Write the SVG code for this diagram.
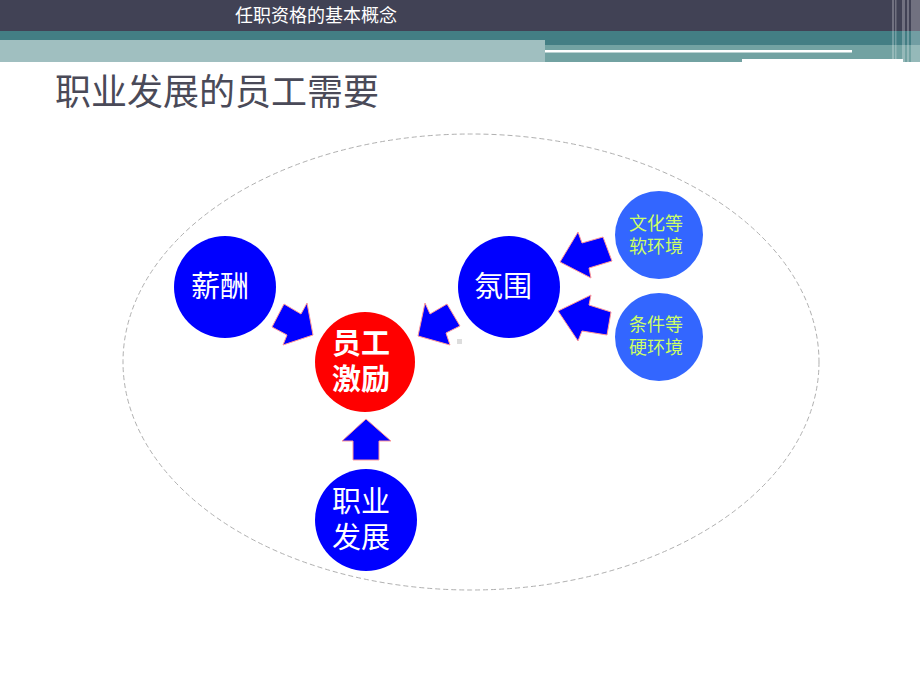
<svg xmlns="http://www.w3.org/2000/svg" width="920" height="690" viewBox="0 0 920 690">
<defs>
<style>
.cn{font-family:"Noto Sans CJK SC","Noto Sans",sans-serif}
.big{fill:#0000ff}
.red{fill:#ff0000}
.small{fill:#3366ff}
.wt{fill:#ffffff;font-size:29px;text-anchor:middle}
.yt{fill:#ccff66;font-size:18px;text-anchor:middle}
.arr{fill:#0000ff;stroke:#ff9999;stroke-width:1}
</style>
</defs>
<rect width="920" height="690" fill="#ffffff"/>
<g id="header">
<rect x="0" y="0" width="920" height="31" fill="#414255"/>
<rect x="0" y="31" width="920" height="14" fill="#437e84"/>
<rect x="0" y="40" width="545" height="22" fill="#a0bfc0"/>
<rect x="545" y="45" width="375" height="17" fill="#72a2a2"/>
<rect x="545" y="50" width="307" height="2.5" fill="#ffffff"/>
<rect x="742" y="59" width="161" height="3" fill="#ffffff"/>
<g fill="#ffffff" opacity="0.25">
<rect x="892" y="0" width="2" height="62"/>
<rect x="895" y="0" width="1.5" height="62"/>
<rect x="902" y="0" width="3" height="62"/>
<rect x="907" y="0" width="2" height="62"/>
<rect x="911" y="0" width="9" height="62"/>
</g>
<text class="cn" x="316" y="22" font-size="18" fill="#ffffff" text-anchor="middle">任职资格的基本概念</text>
</g>
<text class="cn" x="55" y="105" font-size="36" fill="#4a4a58">职业发展的员工需要</text>
<ellipse cx="471" cy="362" rx="348" ry="228" fill="none" stroke="#b0b0b0" stroke-width="1" stroke-dasharray="5,3"/>
<g id="connectors">
<polygon class="arr" points="284,304 301,314 307,303 313,335 283,345 287,335 272,327"/>
<polygon class="arr" points="425,303 430,314 447,304 460,326 446,333 450,345 418,336"/>
<polygon class="arr" points="578,232 582,243 603,237 612,261 589,268 591,278 560,262"/>
<polygon class="arr" points="591,295 589,305 611,312 607,335 582,331 578,341 558,311"/>
<polygon class="arr" points="366,419 391,441 379,441 379,460 353,460 353,441 342,441"/>
</g>
<rect x="457" y="339" width="5" height="5" fill="#dddddd"/>
<g id="xinchou">
<circle class="big" cx="225" cy="287" r="51"/>
<text class="cn wt" x="220" y="297">薪酬</text>
</g>
<g id="fenwei">
<circle class="big" cx="509" cy="287" r="51"/>
<text class="cn wt" x="503" y="297">氛围</text>
</g>
<g id="jili">
<circle class="red" cx="365" cy="362" r="50"/>
<text class="cn wt" x="361" y="354" font-size="30" font-weight="bold">员工</text>
<text class="cn wt" x="361" y="390" font-size="30" font-weight="bold">激励</text>
</g>
<g id="zhiye">
<circle class="big" cx="366" cy="520" r="51"/>
<text class="cn wt" x="361" y="512">职业</text>
<text class="cn wt" x="361" y="548">发展</text>
</g>
<g id="ruan">
<circle class="small" cx="659" cy="235" r="44"/>
<text class="cn yt" x="656" y="230">文化等</text>
<text class="cn yt" x="656" y="253">软环境</text>
</g>
<g id="ying">
<circle class="small" cx="659" cy="337" r="44"/>
<text class="cn yt" x="656" y="331">条件等</text>
<text class="cn yt" x="656" y="354">硬环境</text>
</g>
</svg>
